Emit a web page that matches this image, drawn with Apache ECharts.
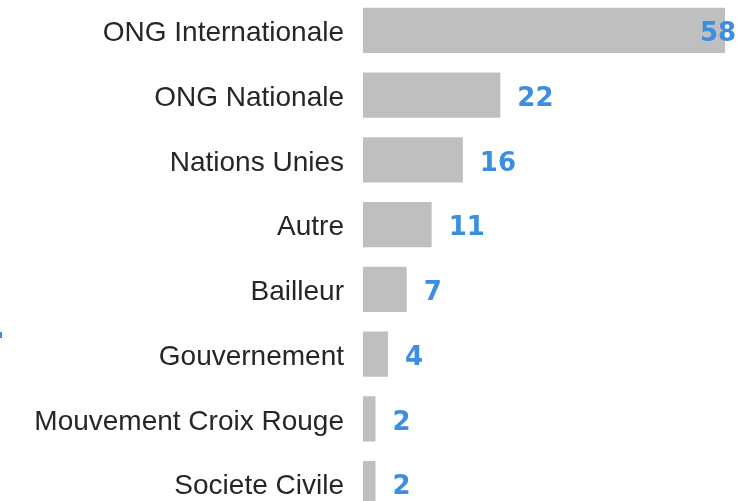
<!DOCTYPE html>
<html>
<head>
<meta charset="utf-8">
<script src="https://cdn.jsdelivr.net/npm/echarts@6/dist/echarts.min.js"></script>
<style>
html,body{margin:0;padding:0;background:#fff;}
#main{width:739px;height:501px;}
</style>
</head>
<body>
<div id="main"></div>
<script>
var categories = ['ONG Internationale','ONG Nationale','Nations Unies','Autre','Bailleur','Gouvernement','Mouvement Croix Rouge','Societe Civile'];
var counts = [58,22,16,11,7,4,2,2];

var chart = echarts.init(document.getElementById('main'));

var seriesData = counts.map(function(v,i){
    var item = {value:v};
    // the biggest bar: label pulled back over the bar end
    if(i===0){
        item.label = {distance:-25};
    }
    return item;
});

var option = {
    animation:false,
    grid:{left:363,right:14,top:-2,height:518,containLabel:false,outerBoundsMode:'none'},
    xAxis:{
        type:'value',
        min:0,
        max:58,
        show:false
    },
    yAxis:{
        type:'category',
        data:categories,
        inverse:true,
        axisLine:{show:false},
        axisTick:{show:false},
        axisLabel:{
            margin:19,
            formatter:function(v){ return '{t|'+v+'}'; },
            rich:{
                t:{
                    fontSize:28,
                    color:'#262626',
                    padding:[6,0,0,0],
                    fontFamily:'Liberation Sans, Arial, sans-serif'
                }
            }
        }
    },
    series:[{
        type:'bar',
        data:seriesData,
        barCategoryGap:'30%',
        itemStyle:{color:'#bfbfbf'},
        label:{
            show:true,
            position:'right',
            distance:17,
            offset:[0,4],
            fontSize:26,
            fontWeight:'bold',
            color:'#3b8ee0',
            fontFamily:'DejaVu Sans, sans-serif'
        }
    }],
    graphic:[{
        type:'rect',
        shape:{x:0,y:332,width:2,height:6},
        style:{fill:'#3b8ee0'}
    }]
};
chart.setOption(option);
</script>
</body>
</html>
